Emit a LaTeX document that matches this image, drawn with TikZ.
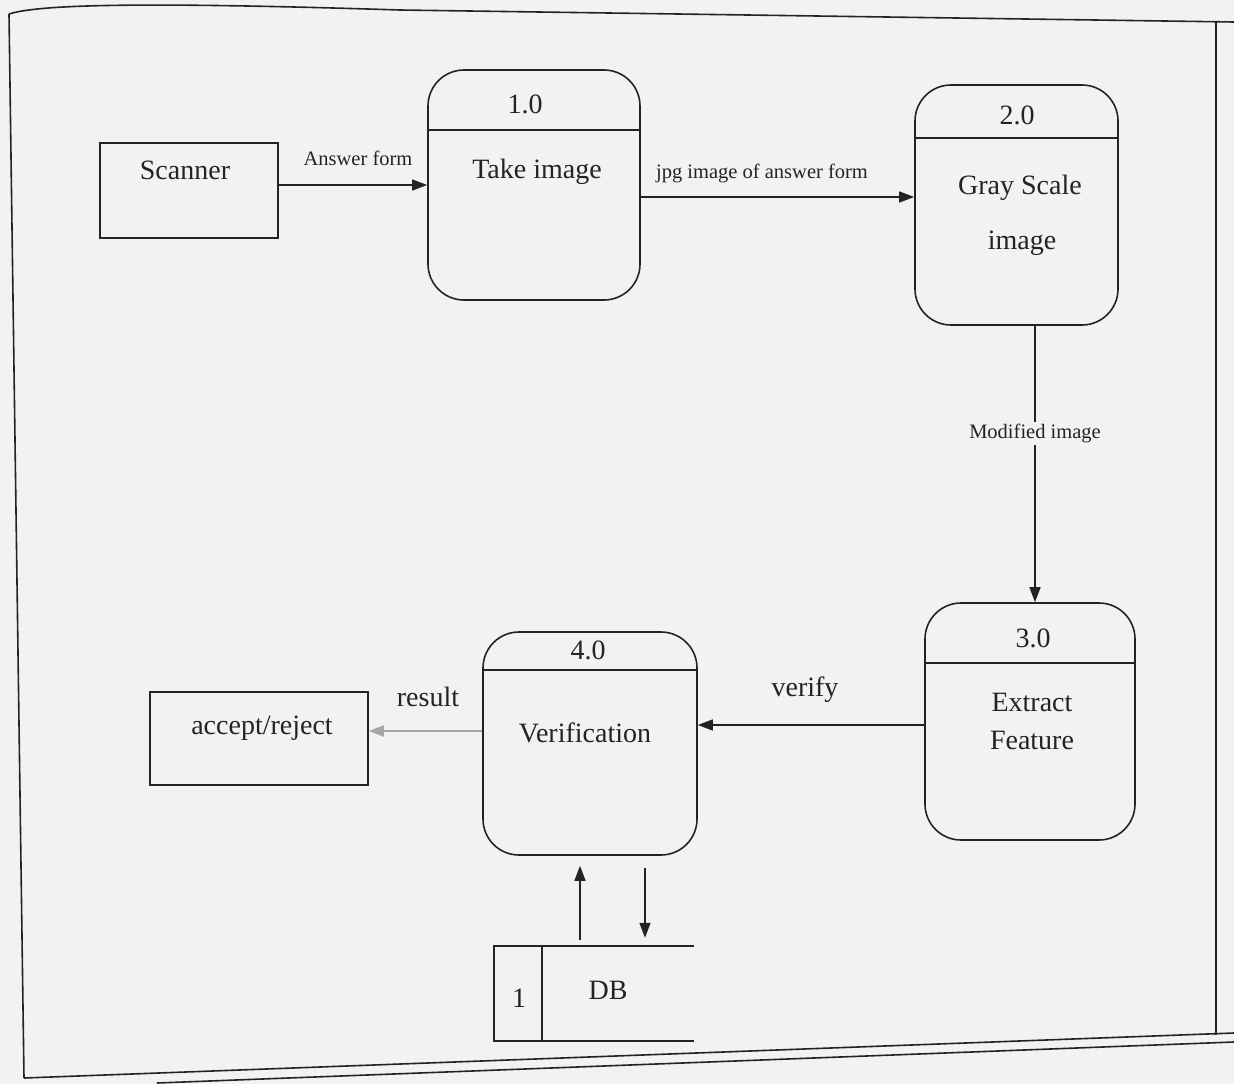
\documentclass[tikz,border=0pt]{standalone}
\usepackage{fontspec}
\setmainfont{Liberation Serif}
\usetikzlibrary{arrows.meta}
\definecolor{paper}{RGB}{242,242,240}
\definecolor{ink}{RGB}{35,35,35}
\tikzset{
  proc/.style={draw=ink, line width=1.6pt, rounded corners=36pt, inner sep=0pt},
  extbox/.style={draw=ink, line width=1.6pt, inner sep=0pt},
  big/.style={text=ink, inner sep=1pt, font=\fontsize{28}{32}\selectfont},
  small/.style={text=ink, inner sep=2pt, font=\fontsize{20.5}{24}\selectfont},
  flow/.style={draw=ink, line width=1.4pt, -{Triangle[length=15pt,width=11pt]}},
  frame/.style={draw=ink, line width=1.6pt}
}
\begin{document}
\begin{tikzpicture}[x=1pt,y=-1pt]
\useasboundingbox (0,0) rectangle (1234,1084);
\fill[paper] (0,0) rectangle (1234,1084);
% outer frame
\draw[frame] (9,14) .. controls (40,4) and (150,2) .. (400,10) -- (1234,22);
\draw[frame] (9,14) -- (24,1078);
\draw[frame] (1216,22) -- (1216,1035);
\draw[frame] (24,1078) -- (1234,1033);
\draw[frame] (157,1083) -- (1234,1042);

% external entities
\node[extbox, minimum width=178, minimum height=95] (scan) at (189,190.5) {};
\node[big] (scant) at (185,170) {Scanner};
\node[extbox, minimum width=218, minimum height=93] (acc) at (259,738.5) {};
\node[big] (acct) at (262,728) {accept/reject};

% processes
\node[proc, minimum width=212, minimum height=230] (p1) at (534,185) {};
\draw[ink, line width=1.6pt] (p1.west |- 0,130) -- (p1.east |- 0,130);
\node[big] (p1n) at (525,104) {1.0};
\node[big] (p1t) at (537,172) {Take image};

\node[proc, minimum width=203, minimum height=240] (p2) at (1016.5,205) {};
\draw[ink, line width=1.6pt] (p2.west |- 0,138) -- (p2.east |- 0,138);
\node[big] (p2n) at (1017,115) {2.0};
\node[big] (p2t) at (1020,188) {Gray Scale};
\node[big] (p2u) at (1022,243) {image};

\node[proc, minimum width=210, minimum height=237] (p3) at (1030,721.5) {};
\draw[ink, line width=1.6pt] (p3.west |- 0,663) -- (p3.east |- 0,663);
\node[big] (p3n) at (1033,638) {3.0};
\node[big] (p3t) at (1032,702) {Extract};
\node[big] (p3u) at (1032,740) {Feature};

\node[proc, minimum width=214, minimum height=223] (p4) at (590,743.5) {};
\draw[ink, line width=1.6pt] (p4.west |- 0,670) -- (p4.east |- 0,670);
\node[big] (p4n) at (588,650) {4.0};
\node[big] (p4t) at (585,733) {Verification};

% data store
\node[minimum width=200, minimum height=95, inner sep=0pt] (db) at (594,993.5) {};
\draw[ink, line width=1.6pt] (db.north east) -- (db.north west) -- (db.south west) -- (db.south east);
\draw[ink, line width=1.6pt] (db.north west -| 542,0) -- (db.south west -| 542,0);
\node[big] (dbn) at (519,998) {1};
\node[big] (dbt) at (608,990) {DB};

% connectors
\coordinate (y1) at (0,185);
\draw[flow] (scan.east |- y1) -- (p1.west |- y1);
\node[small] (l1) at (358,158) {Answer form};

\coordinate (y2) at (0,197);
\draw[flow] (p1.east |- y2) -- (p2.west |- y2);
\node[small] (l2) at (762,173) {jpg image of answer form};

\coordinate (x3) at (1035,0);
\draw[flow] (p2.south -| x3) -- (p3.north -| x3)
  node[small, pos=0.39, fill=paper] (l3) {Modified image};

\coordinate (y4) at (0,725);
\draw[flow] (p3.west |- y4) -- (p4.east |- y4);
\node[big] (l4) at (805,690) {verify};

\coordinate (y5) at (0,731);
\draw[flow, draw=gray!70, line width=2pt] (p4.west |- y5) -- (acc.east |- y5);
\node[big] (l5) at (428,697) {result};

\coordinate (x6) at (580,0);
\coordinate (x7) at (645,0);
\draw[flow, shorten <=6pt, shorten >=10pt] (db.north -| x6) -- (p4.south -| x6);
\draw[flow, shorten <=12pt, shorten >=8pt] (p4.south -| x7) -- (db.north -| x7);
\end{tikzpicture}
\end{document}
